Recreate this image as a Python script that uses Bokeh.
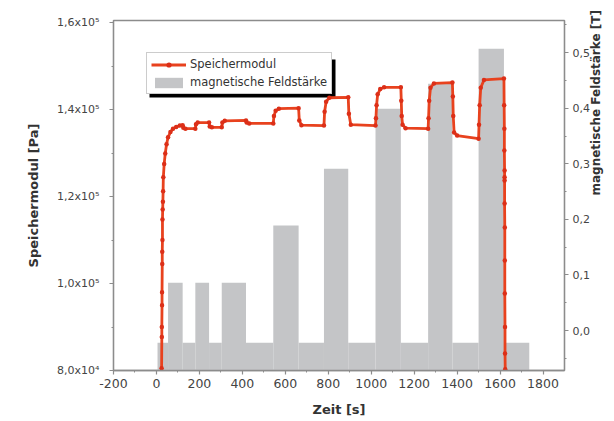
import math
from bokeh.plotting import figure
from bokeh.models import (Range1d, LinearAxis, FixedTicker, Legend, LegendItem,
                          BoxAnnotation)
from bokeh.embed import file_html
from bokeh.resources import INLINE

# ---------------- data ----------------
zeit = [24, 25, 25, 26, 26, 27, 27, 28, 28, 29, 30, 31, 32, 36, 41, 47, 54, 65, 77, 92, 109, 122,
        125, 135, 181,
        184, 192, 245,
        248, 258, 304,
        307, 318, 417,
        420, 432, 544,
        547, 555, 570, 662,
        665, 675, 780,
        783, 790, 805, 893,
        896, 905, 1020,
        1022, 1025, 1030, 1042, 1060, 1138,
        1140, 1142, 1146, 1160, 1265,
        1267, 1270, 1276, 1292, 1378,
        1380, 1382, 1386, 1400, 1500,
        1502, 1505, 1510, 1525, 1618,
        1619, 1620, 1620, 1621, 1621, 1621, 1621, 1622, 1622, 1622, 1623, 1623, 1624]
speichermodul = [80500, 87700, 90000, 95000, 98000, 104500, 107300, 110000, 114700, 117000, 118800,
                 121200, 124400, 127500, 129900, 132000, 133600, 134800, 135600, 136000, 136300, 136400,
                 135800, 135600, 135600,
                 136600, 137000, 137000,
                 136100, 135900, 135900,
                 137000, 137400, 137500,
                 137000, 136800, 136800,
                 138500, 139700, 140200, 140300,
                 137500, 136400, 136300,
                 139500, 141800, 142700, 142800,
                 139000, 136500, 136300,
                 138000, 141000, 143500, 144700, 145100, 145100,
                 142000, 138500, 136500, 135700, 135600,
                 138000, 142000, 145000, 146000, 146200,
                 143000, 138500, 134700, 134000, 133300,
                 136500, 141000, 145000, 146800, 147100,
                 141000, 135600, 130600, 126000, 124400, 123700, 118400, 112900, 105300, 97700,
                 90000, 83900, 80300]

feld_kanten = [5, 54, 122, 181, 245, 304, 417, 544, 662, 780, 893, 1020, 1138, 1265, 1378, 1500,
               1618, 1736]
feld_werte = [-0.022, 0.086, -0.022, 0.086, -0.022, 0.086, -0.022, 0.189, -0.022, 0.291, -0.022,
              0.399, -0.022, 0.444, -0.022, 0.507, -0.022]

x_ticks = [-200, 0, 200, 400, 600, 800, 1000, 1200, 1400, 1600, 1800]
x_minor = [-100, 100, 300, 500, 700, 900, 1100, 1300, 1500, 1700]
x_labels = ["-200", "0", "200", "400", "600", "800", "1000", "1200", "1400", "1600", "1800"]
g_ticks = [80000, 100000, 120000, 140000, 160000]
g_minor = [90000, 110000, 130000, 150000]
g_labels = ["8,0x10\u2074", "1,0x10\u2075", "1,2x10\u2075", "1,4x10\u2075", "1,6x10\u2075"]
b_ticks = [0.0, 0.1, 0.2, 0.3, 0.4, 0.5]
b_minor = [-0.05, 0.05, 0.15, 0.25, 0.35, 0.45, 0.55]
b_labels = ["0,0", "0,1", "0,2", "0,3", "0,4", "0,5"]

# ---------------- styling ----------------
FONT = "DejaVu Sans"
AX = "#8c8c8c"
TICKTXT = "#444444"
TITLETXT = "#333333"
RED = "#e8421e"
GRAY = "#c4c5c7"

feld_range = Range1d(-0.072, 0.558)

p = figure(width=612, height=420, x_range=Range1d(-200, 1900), y_range=Range1d(80000, 160460),
           output_backend="svg", toolbar_location=None,
           min_border_left=113, min_border_top=20, min_border_right=0, min_border_bottom=50,
           background_fill_color="white", border_fill_color="white")
p.extra_y_ranges = {"feld": feld_range}
p.grid.visible = False
p.outline_line_color = AX
p.outline_line_width = 1.3

bars = p.quad(left=feld_kanten[:-1], right=feld_kanten[1:], top=feld_werte,
              bottom=feld_range.start, y_range_name="feld",
              fill_color=GRAY, line_color=None)
line = p.line(zeit, speichermodul, line_color=RED, line_width=2.8)
dots = p.scatter(zeit, speichermodul, size=4.5, fill_color="#dc2f18", line_color=None)


def style_axis(ax, label_size):
    ax.axis_line_color = AX
    ax.axis_line_width = 1.3
    ax.major_tick_line_color = AX
    ax.minor_tick_line_color = AX
    ax.major_tick_line_width = 1.2
    ax.major_tick_out = 4
    ax.major_tick_in = 0
    ax.minor_tick_out = 2
    ax.minor_tick_in = 0
    ax.major_label_text_font = FONT
    ax.major_label_text_font_size = label_size
    ax.major_label_text_color = TICKTXT
    ax.axis_label_text_font = FONT
    ax.axis_label_text_font_size = "13px"
    ax.axis_label_text_font_style = "bold"
    ax.axis_label_text_color = TITLETXT


xa = p.xaxis[0]
xa.ticker = FixedTicker(ticks=x_ticks, minor_ticks=x_minor)
xa.major_label_overrides = {t: l for t, l in zip(x_ticks, x_labels)}
xa.axis_label = "Zeit [s]"
style_axis(xa, "12.5px")
xa.major_label_standoff = 4
xa.axis_label_standoff = 11

ya = p.yaxis[0]
ya.ticker = FixedTicker(ticks=g_ticks, minor_ticks=g_minor)
ya.major_label_overrides = {t: l for t, l in zip(g_ticks, g_labels)}
ya.axis_label = "Speichermodul [Pa]"
style_axis(ya, "11px")
ya.major_label_standoff = 10
ya.axis_label_standoff = 13

ra = LinearAxis(y_range_name="feld", ticker=FixedTicker(ticks=b_ticks, minor_ticks=b_minor))
ra.major_label_overrides = {t: l for t, l in zip(b_ticks, b_labels)}
ra.axis_label = "magnetische Feldstärke [T]"
style_axis(ra, "11px")
ra.axis_label_text_font_size = "12px"
ra.major_label_standoff = 4
ra.axis_label_standoff = 3
ra.axis_label_orientation = math.pi / 2
p.add_layout(ra, "right")

# legend shadow (screen units, relative to the frame)
shadow = BoxAnnotation(left=36, right=36 + 186, bottom=273, top=273 + 38,
                       left_units="screen", right_units="screen",
                       bottom_units="screen", top_units="screen",
                       fill_color="black", fill_alpha=1.0, line_color=None, level="underlay")
p.add_layout(shadow)

legend = Legend(items=[LegendItem(label="Speichermodul", renderers=[line, dots]),
                       LegendItem(label="magnetische Feldstärke", renderers=[bars])],
                location=(33, 276))
legend.border_line_color = "#9a9a9a"
legend.border_line_width = 1
legend.background_fill_color = "white"
legend.background_fill_alpha = 1.0
legend.label_text_font = FONT
legend.label_text_font_size = "11.5px"
legend.label_text_color = TITLETXT
legend.glyph_width = 35
legend.glyph_height = 13
legend.label_height = 13
legend.spacing = 4
legend.padding = 4
legend.margin = 0
legend.label_standoff = 4
p.add_layout(legend)

open("out.html", "w").write(file_html(p, INLINE))
